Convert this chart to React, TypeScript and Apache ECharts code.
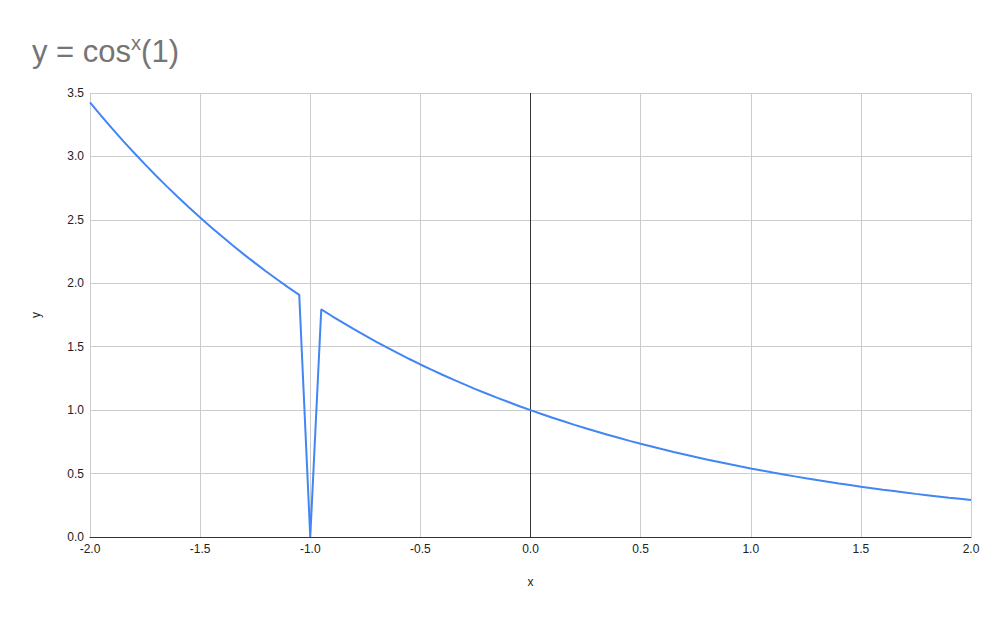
import * as echarts from 'echarts';
import React, { useEffect, useRef } from 'react';

// x positions of the plotted points
const xValues = [
  -2.0, -1.95, -1.9, -1.85, -1.8, -1.75, -1.7, -1.65, -1.6, -1.55,
  -1.5, -1.45, -1.4, -1.35, -1.3, -1.25, -1.2, -1.15, -1.1, -1.05,
  -1.0, -0.95, -0.9, -0.85, -0.8, -0.75, -0.7, -0.65, -0.6, -0.55,
  -0.5, -0.45, -0.4, -0.35, -0.3, -0.25, -0.2, -0.15, -0.1, -0.05,
  0.0, 0.05, 0.1, 0.15, 0.2, 0.25, 0.3, 0.35, 0.4, 0.45,
  0.5, 0.55, 0.6, 0.65, 0.7, 0.75, 0.8, 0.85, 0.9, 0.95,
  1.0, 1.05, 1.1, 1.15, 1.2, 1.25, 1.3, 1.35, 1.4, 1.45,
  1.5, 1.55, 1.6, 1.65, 1.7, 1.75, 1.8, 1.85, 1.9, 1.95,
  2.0,
];

// y values (the point at x = -1 drops to 0)
const yValues = [
  3.426, 3.322, 3.221, 3.123, 3.029, 2.937, 2.848, 2.762, 2.678, 2.597,
  2.518, 2.442, 2.368, 2.296, 2.226, 2.159, 2.093, 2.030, 1.968, 1.909,
  0.0, 1.795, 1.740, 1.688, 1.636, 1.587, 1.539, 1.492, 1.447, 1.403,
  1.360, 1.319, 1.279, 1.240, 1.203, 1.166, 1.131, 1.097, 1.064, 1.031,
  1.0, 0.970, 0.940, 0.912, 0.884, 0.857, 0.831, 0.806, 0.782, 0.758,
  0.735, 0.713, 0.691, 0.670, 0.650, 0.630, 0.611, 0.593, 0.575, 0.557,
  0.540, 0.524, 0.508, 0.493, 0.478, 0.463, 0.449, 0.436, 0.422, 0.410,
  0.397, 0.385, 0.373, 0.362, 0.351, 0.340, 0.330, 0.320, 0.310, 0.301,
  0.292,
];

const FONT = '"Liberation Sans", Arial, sans-serif';

const App: React.FC = () => {
  const chartRef = useRef<HTMLDivElement>(null);

  useEffect(() => {
    const myChart = echarts.init(chartRef.current!, null, { renderer: 'svg' });

    const option = {
      animation: false,
      backgroundColor: '#ffffff',
      textStyle: { fontFamily: FONT },
      title: {
        left: 19,
        top: 20,
        text: '{a|y = cos}{b|x}{a|(1)}',
        textStyle: {
          fontWeight: 'normal',
          rich: {
            a: { fontSize: 31, fontWeight: 'normal', color: '#757575', fontFamily: FONT, lineHeight: 36 },
            b: { fontSize: 20, fontWeight: 'normal', color: '#757575', fontFamily: FONT, verticalAlign: 'top', lineHeight: 36, padding: [0, 0, 4, 0] },
          },
        },
      },
      grid: { left: 82, right: 23, top: 85, bottom: 75 },
      xAxis: {
        type: 'value',
        min: -2,
        max: 2,
        interval: 0.5,
        name: 'x',
        nameLocation: 'middle',
        nameGap: 39,
        nameTextStyle: { color: '#222', fontSize: 12, fontFamily: FONT },
        axisLine: { onZero: false, lineStyle: { color: '#333', width: 1 } },
        axisTick: { show: false },
        axisLabel: {
          color: '#222',
          fontSize: 12,
          margin: 6,
          formatter: (v: number) => v.toFixed(1),
        },
        splitLine: { show: true, lineStyle: { color: '#cccccc', width: 1 } },
      },
      yAxis: {
        type: 'value',
        min: 0,
        max: 3.5,
        interval: 0.5,
        name: 'y',
        nameLocation: 'middle',
        nameGap: 48,
        nameTextStyle: { color: '#222', fontSize: 12, fontFamily: FONT },
        axisLine: { show: false },
        axisTick: { show: false },
        axisLabel: {
          color: '#222',
          fontSize: 12,
          margin: 6,
          formatter: (v: number) => v.toFixed(1),
        },
        splitLine: { show: true, lineStyle: { color: '#cccccc', width: 1 } },
      },
      series: [
        {
          type: 'line',
          data: xValues.map((x, i) => [x, yValues[i]]),
          showSymbol: false,
          symbol: 'none',
          lineStyle: { color: '#4285f4', width: 2 },
          itemStyle: { color: '#4285f4' },
          z: 3,
          markLine: {
            silent: true,
            symbol: 'none',
            label: { show: false },
            lineStyle: { color: '#333', width: 1, type: 'solid' },
            data: [{ xAxis: 0 }],
            z: 2,
          },
        },
      ],
    };

    myChart.setOption(option);

    return () => {
      myChart.dispose();
    };
  }, []);

  return <div ref={chartRef} style={{ width: '986px', height: '604px' }} />;
};

export default App;
